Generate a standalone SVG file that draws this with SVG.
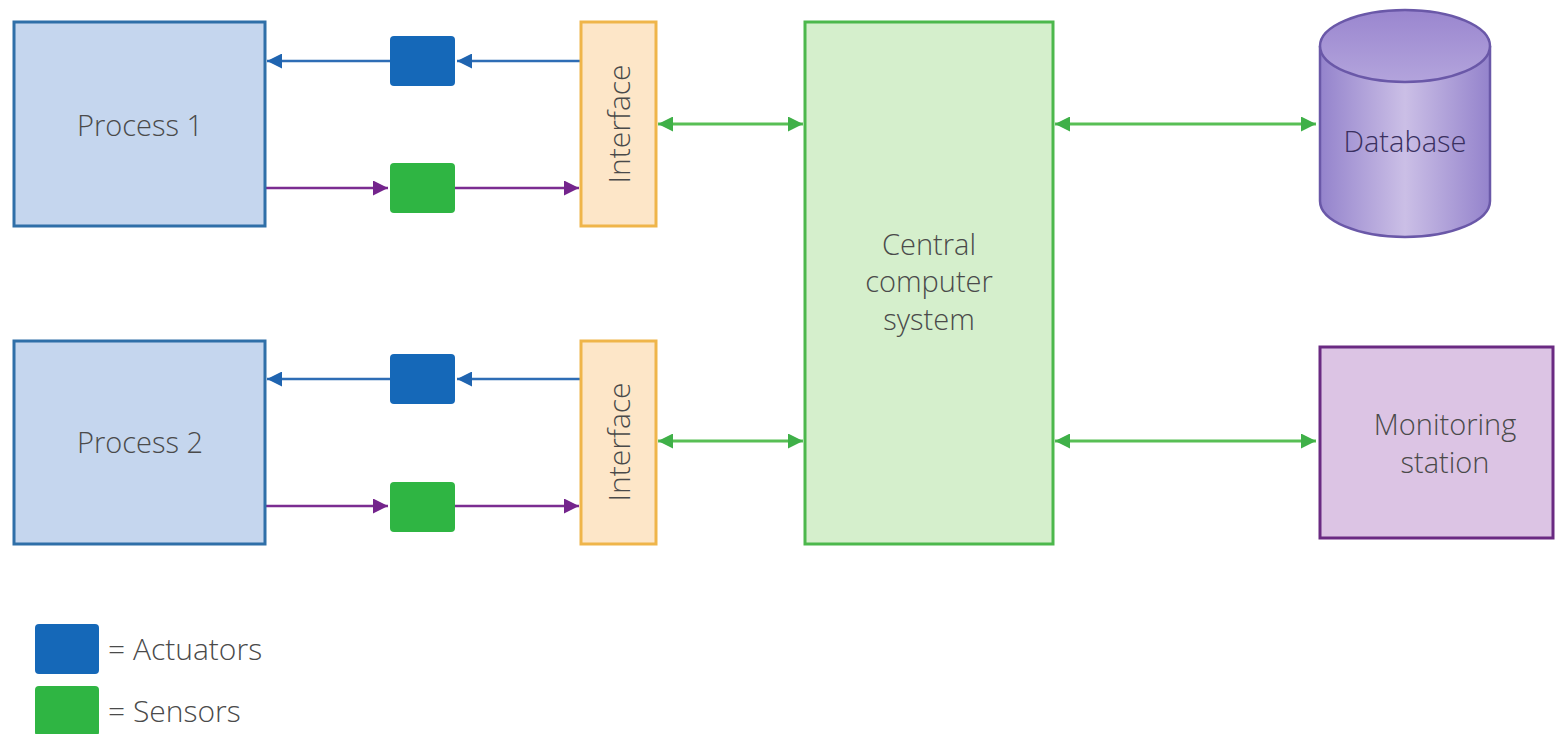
<svg xmlns="http://www.w3.org/2000/svg" width="1555" height="734" viewBox="0 0 1555 734">
<style>
text{font-family:"Open Sans","Noto Sans","Liberation Sans",sans-serif;fill:#4a4a4a;font-weight:300}
.proc{fill:#c5d6ee;stroke:#2f6fa8;stroke-width:3}
.iface{fill:#fde6c8;stroke:#efb54a;stroke-width:3}
.act{fill:#1568b8}
.sen{fill:#2fb543}
.blue{stroke:#2e6db5;stroke-width:2.5;fill:none}
.purp{stroke:#7b2d91;stroke-width:2.5;fill:none}
.grn{stroke:#58bf55;stroke-width:3;fill:none}
</style>
<defs>
<marker id="mb" viewBox="0 0 10 10" refX="10" refY="5" markerWidth="9.5" markerHeight="6" markerUnits="strokeWidth" orient="auto"><path d="M0,0L10,5L0,10z" fill="#1f64b0"/></marker>
<marker id="mp" viewBox="0 0 10 10" refX="10" refY="5" markerWidth="9.5" markerHeight="6" markerUnits="strokeWidth" orient="auto"><path d="M0,0L10,5L0,10z" fill="#74248c"/></marker>
<marker id="mg" viewBox="0 0 10 10" refX="10" refY="5" markerWidth="7.5" markerHeight="5" markerUnits="strokeWidth" orient="auto-start-reverse"><path d="M0,0L10,5L0,10z" fill="#3fb048"/></marker>
<linearGradient id="cyl" x1="0" y1="0" x2="1" y2="0">
<stop offset="0" stop-color="#9483cc"/><stop offset="0.5" stop-color="#cbbfe6"/><stop offset="1" stop-color="#9483cc"/>
</linearGradient>
<linearGradient id="cyltop" x1="0" y1="0" x2="0" y2="1">
<stop offset="0" stop-color="#9a86cf"/><stop offset="1" stop-color="#b3a4dc"/>
</linearGradient>
</defs>

<g id="connectors">
<line class="blue" x1="580" y1="61" x2="457" y2="61" marker-end="url(#mb)"/>
<line class="blue" x1="390" y1="61" x2="267" y2="61" marker-end="url(#mb)"/>
<line class="purp" x1="265" y1="188" x2="388" y2="188" marker-end="url(#mp)"/>
<line class="purp" x1="455" y1="188" x2="579" y2="188" marker-end="url(#mp)"/>
<line class="blue" x1="580" y1="379" x2="457" y2="379" marker-end="url(#mb)"/>
<line class="blue" x1="390" y1="379" x2="267" y2="379" marker-end="url(#mb)"/>
<line class="purp" x1="265" y1="506" x2="388" y2="506" marker-end="url(#mp)"/>
<line class="purp" x1="455" y1="506" x2="579" y2="506" marker-end="url(#mp)"/>
<line class="grn" x1="658" y1="124" x2="803" y2="124" marker-start="url(#mg)" marker-end="url(#mg)"/>
<line class="grn" x1="658" y1="441" x2="803" y2="441" marker-start="url(#mg)" marker-end="url(#mg)"/>
<line class="grn" x1="1055" y1="124" x2="1316" y2="124" marker-start="url(#mg)" marker-end="url(#mg)"/>
<line class="grn" x1="1055" y1="441" x2="1316" y2="441" marker-start="url(#mg)" marker-end="url(#mg)"/>
</g>

<g id="process1">
<rect class="proc" x="14" y="22" width="251" height="204"/>
<text x="140" y="136" font-size="29" text-anchor="middle">Process 1</text>
</g>
<g id="actuator1"><rect class="act" x="390" y="36" width="65" height="50" rx="4"/></g>
<g id="sensor1"><rect class="sen" x="390" y="163" width="65" height="50" rx="4"/></g>
<g id="interface1">
<rect class="iface" x="581" y="22" width="75" height="204"/>
<text transform="translate(630,124) rotate(-90)" font-size="30" text-anchor="middle">Interface</text>
</g>

<g id="process2">
<rect class="proc" x="14" y="341" width="251" height="203"/>
<text x="140" y="453" font-size="29" text-anchor="middle">Process 2</text>
</g>
<g id="actuator2"><rect class="act" x="390" y="354" width="65" height="50" rx="4"/></g>
<g id="sensor2"><rect class="sen" x="390" y="482" width="65" height="50" rx="4"/></g>
<g id="interface2">
<rect class="iface" x="581" y="341" width="75" height="203"/>
<text transform="translate(630,442) rotate(-90)" font-size="30" text-anchor="middle">Interface</text>
</g>

<g id="central">
<rect x="805" y="22" width="248" height="522" fill="#d5efcc" stroke="#4cb84c" stroke-width="3"/>
<text font-size="29" text-anchor="middle"><tspan x="929" y="255">Central</tspan><tspan x="929" y="292">computer</tspan><tspan x="929" y="330">system</tspan></text>
</g>

<g id="database">
<path d="M1320,46 V201 A85,36 0 0 0 1490,201 V46" fill="url(#cyl)" stroke="#6a58a8" stroke-width="2.5"/>
<ellipse cx="1405" cy="46" rx="85" ry="36" fill="url(#cyltop)" stroke="#6a58a8" stroke-width="2.5"/>
<text x="1405" y="152" font-size="29" text-anchor="middle" style="fill:#3a3060">Database</text>
</g>

<g id="monitoring">
<rect x="1320" y="347" width="233" height="191" fill="#dcc4e4" stroke="#6a2a82" stroke-width="3"/>
<text font-size="29" text-anchor="middle"><tspan x="1445" y="435">Monitoring</tspan><tspan x="1445" y="473">station</tspan></text>
</g>

<g id="legend">
<rect class="act" x="35" y="624" width="64" height="50" rx="4"/>
<text x="108" y="660" font-size="30">= Actuators</text>
<rect class="sen" x="35" y="686" width="64" height="50" rx="4"/>
<text x="108" y="722" font-size="30">= Sensors</text>
</g>
</svg>
